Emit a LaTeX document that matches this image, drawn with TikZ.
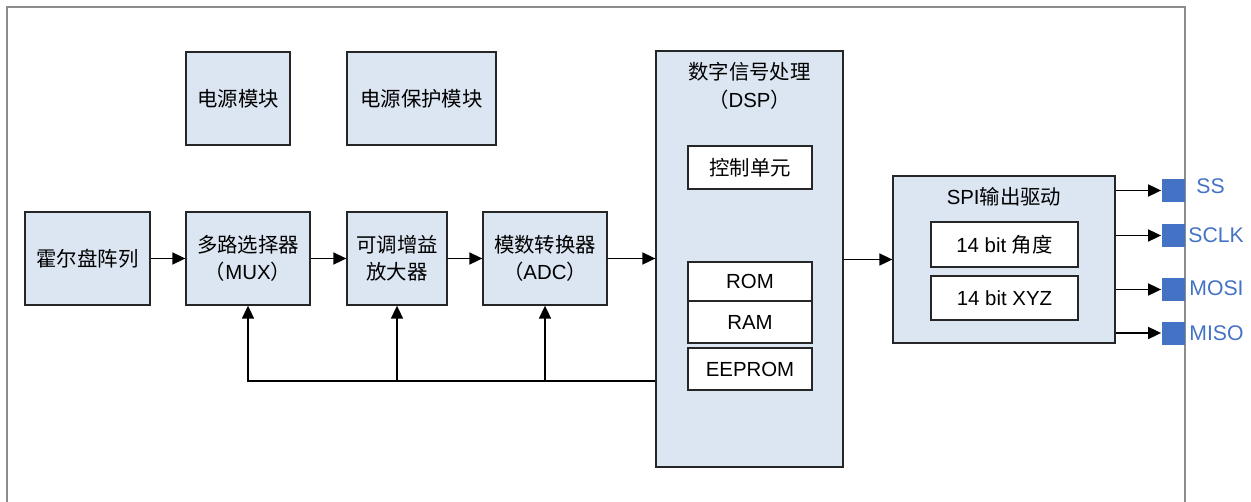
\documentclass[tikz,border=0pt]{standalone}
\usepackage{fontspec}
\setmainfont{Liberation Sans}
\newfontfamily\cjk{Noto Sans CJK SC}
\usetikzlibrary{arrows.meta,calc}
\definecolor{boxblue}{RGB}{220,230,242}
\definecolor{pinblue}{RGB}{68,114,196}
\begin{document}
\begin{tikzpicture}[x=0.5pt,y=-0.5pt,
  box/.style={draw=black!85,fill=boxblue,line width=0.65pt,inner sep=0pt,align=center,
    font=\fontsize{10.2}{13.5}\selectfont},
  wbox/.style={box,fill=white},
  arr/.style={line width=0.85pt,-{Triangle[length=6.5pt,width=6pt]}},
  pin/.style={fill=pinblue,draw=none,minimum width=11.5pt,minimum height=11.5pt,inner sep=0pt},
  pinlbl/.style={text=pinblue,anchor=west,inner sep=0pt,font=\fontsize{10.6}{13}\selectfont}]
\useasboundingbox (0,0) rectangle (1251,502);
% outer frame, running off the lower edge
\begin{scope}
\clip (0,0) rectangle (1251,502);
\draw[black!45,line width=0.6pt] (7,520) -- (7,7) -- (1185,7) -- (1185,520);
\end{scope}

% power blocks
\node[box,minimum width=52pt,minimum height=46.5pt] (pwr) at (238,98.5) {\cjk 电源模块};
\node[box,minimum width=74.5pt,minimum height=46.5pt] (prot) at (421.5,98.5) {\cjk 电源保护模块};

% signal chain
\node[box,minimum width=62.5pt,minimum height=46.5pt] (hall) at (87.5,258.5) {\cjk 霍尔盘阵列};
\node[box,minimum width=62pt,minimum height=46.5pt] (mux) at (248,258.5) {\cjk 多路选择器\\{\cjk （}MUX{\cjk ）}};
\node[box,minimum width=50pt,minimum height=46.5pt] (amp) at (397,258.5) {\cjk 可调增益\\\cjk 放大器};
\node[box,minimum width=62pt,minimum height=46.5pt] (adc) at (545,258.5) {\cjk 模数转换器\\{\cjk （}ADC{\cjk ）}};

% DSP
\node[box,minimum width=93.5pt,minimum height=208pt] (dsp) at (749.5,259) {};
\node[align=center,inner sep=0pt,font=\fontsize{10.2}{14}\selectfont] (dsptitle) at (749.5,86) {\cjk 数字信号处理\\{\cjk （}DSP{\cjk ）}};
\node[wbox,minimum width=62pt,minimum height=21.5pt] (ctrl) at (750,167.5) {\cjk 控制单元};
\node[wbox,minimum width=62pt,minimum height=19.5pt] (rom) at (750,281.5) {ROM};
\node[wbox,minimum width=62pt,minimum height=21pt] (ram) at (750,322) {RAM};
\node[wbox,minimum width=62pt,minimum height=21pt] (eeprom) at (750,369) {EEPROM};

% SPI output driver
\node[box,minimum width=111pt,minimum height=83.5pt] (spi) at (1004,259.5) {};
\node[inner sep=0pt,font=\fontsize{10.2}{13}\selectfont] (spititle) at (1004,197) {SPI{\cjk 输出驱动}};
\node[wbox,minimum width=73.5pt,minimum height=22.5pt] (ang) at (1004.5,244.5) {14 bit {\cjk 角度}};
\node[wbox,minimum width=73.5pt,minimum height=22pt] (xyz) at (1004.5,298) {14 bit XYZ};

% pins
\node[pin] (ss) at (1173,190.5) {};
\node[pin] (sclk) at (1173,235.5) {};
\node[pin] (mosi) at (1173,289.5) {};
\node[pin] (miso) at (1173,333) {};
\node[pinlbl] (sslbl) at (1196,186) {SS};
\node[pinlbl] (sclklbl) at (1188,235) {SCLK};
\node[pinlbl] (mosilbl) at (1189,288) {MOSI};
\node[pinlbl] (misolbl) at (1189,333) {MISO};

% forward path
\draw[arr] (hall.east) -- (mux.west);
\draw[arr] (mux.east) -- (amp.west);
\draw[arr] (amp.east) -- (adc.west);
\draw[arr] (adc.east) -- (adc.east -| dsp.west);
\draw[arr] (dsp.east |- spi.west) -- (spi.west);
\foreach \p in {ss,sclk,mosi,miso}
  \draw[arr] (spi.east |- \p) -- (\p.west);

% control feedback from DSP
\coordinate (fb) at ($(dsp.west |- 0,381)$);
\draw[arr] (fb) -| (mux.south);
\draw[arr] (amp.south |- fb) -- (amp.south);
\draw[arr] (adc.south |- fb) -- (adc.south);
\end{tikzpicture}
\end{document}
